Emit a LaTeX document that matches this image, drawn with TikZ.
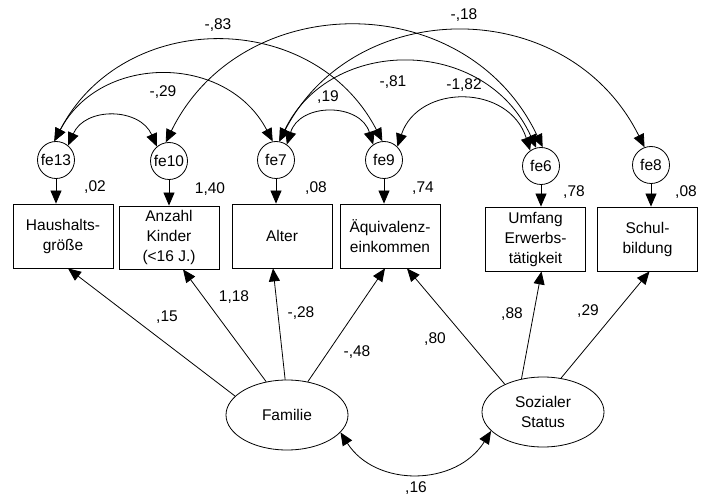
\documentclass[tikz,border=0pt]{standalone}
\usepackage{fontspec}
\setmainfont{Liberation Sans}
\usetikzlibrary{shapes.geometric,arrows.meta}
\begin{document}
\begin{tikzpicture}[x=1pt,y=-1pt,line width=0.8pt,
  font=\fontsize{15.5}{20}\selectfont,
  >={Triangle[length=13pt,width=11pt]},
  obs/.style={draw,rectangle,minimum width=100pt,minimum height=64pt,inner sep=0pt,align=center},
  err/.style={draw,circle,minimum size=37pt,inner sep=0pt},
  lat/.style={draw,ellipse,minimum width=122pt,minimum height=70pt,inner sep=0pt,align=center},
  lbl/.style={inner sep=0pt}]
\useasboundingbox (0,0) rectangle (712,497);
% observed variables
\node[obs] (hh) at (63,236) {Haushalts-\\größe};
\node[obs,minimum height=63pt] (ki) at (169,237.5) {Anzahl\\Kinder\\(<16 J.)};
\node[obs] (al) at (282,236) {Alter};
\node[obs] (aq) at (390,236) {Äquivalenz-\\einkommen};
\node[obs] (um) at (535.5,239) {Umfang\\Erwerbs-\\tätigkeit};
\node[obs] (sb) at (647.5,239) {Schul-\\bildung};
% error terms
\node[err] (e13) at (56,160) {fe13};
\node[err] (e10) at (169,161) {fe10};
\node[err] (e7) at (276,160) {fe7};
\node[err] (e9) at (384,160) {fe9};
\node[err] (e6) at (541,166) {fe6};
\node[err] (e8) at (651,165) {fe8};
% latent variables
\node[lat] (fam) at (287,415) {Familie};
\node[lat] (soz) at (543,412) {Sozialer\\Status};
% error -> observed
\draw[->] (e13) -- (e13 |- hh.north);
\draw[->] (e10) -- (e10 |- ki.north);
\draw[->] (e7) -- (e7 |- al.north);
\draw[->] (e9) -- (e9 |- aq.north);
\draw[->] (e6) -- (e6 |- um.north);
\draw[->] (e8) -- (e8 |- sb.north);
% loadings
\draw[->] (fam.160) -- ([xshift=5pt]hh.south);
\draw[->] (fam.122) -- ([xshift=14pt]ki.south);
\draw[->] (fam.93) -- ([xshift=-9pt]al.south);
\draw[->] (fam.58) -- ([xshift=-5pt]aq.south);
\draw[->] (soz.144) -- ([xshift=17pt]aq.south);
\draw[->] (soz.123) -- ([xshift=6pt]um.south);
\draw[->] (soz.62) -- ([xshift=2pt]sb.south);
% covariances among errors
\draw[<->] (e13.50) .. controls +(17,-39) and +(-17,-39) .. (e10.130);
\draw[<->] (e13.95) .. controls +(46,-88) and +(-46,-88) .. (e7.100);
\draw[<->] (e13.95) .. controls +(69,-133) and +(-69,-133) .. (e9.95);
\draw[<->] (e10.100) .. controls +(76,-155) and +(-76,-160) .. (e6.85);
\draw[<->] (e7.55) .. controls +(13,-42) and +(-13,-42) .. (e9.125);
\draw[<->] (e7.80) .. controls +(51,-106) and +(-51,-112) .. (e6.105);
\draw[<->] (e7.80) .. controls +(76,-147) and +(-76,-153) .. (e8.110);
\draw[<->] (e9.45) .. controls +(21,-63) and +(-21,-67) .. (e6.125);
% covariance of latents
\draw[<->] (fam.-18) .. controls +(35,55) and +(-35,56) .. (soz.200);
% residual variance labels
\node[lbl] (r13) at (95,187) {,02};
\node[lbl] (r10) at (210,189) {1,40};
\node[lbl] (r7) at (316,188) {,08};
\node[lbl] (r9) at (423,188) {,74};
\node[lbl] (r6) at (574,192) {,78};
\node[lbl] (r8) at (686,192) {,08};
% covariance labels
\node[lbl] (c1) at (218,25) {-,83};
\node[lbl] (c2) at (163,92) {-,29};
\node[lbl] (c3) at (328,97) {,19};
\node[lbl] (c4) at (464,15) {-,18};
\node[lbl] (c5) at (393,82) {-,81};
\node[lbl] (c6) at (464,85) {-1,82};
% loading labels
\node[lbl] (w1) at (167,317) {,15};
\node[lbl] (w2) at (234,297) {1,18};
\node[lbl] (w3) at (301,313) {-,28};
\node[lbl] (w4) at (357,352) {-,48};
\node[lbl] (w5) at (435,339) {,80};
\node[lbl] (w6) at (512,314) {,88};
\node[lbl] (w7) at (588,311) {,29};
\node[lbl] (w8) at (416,488) {,16};
\end{tikzpicture}
\end{document}
